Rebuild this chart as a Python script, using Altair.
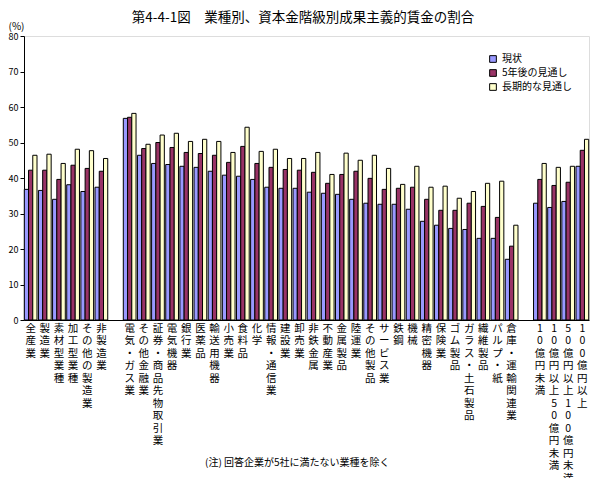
import altair as alt
import pandas as pd

FONT = "Noto Sans CJK JP"

title_text = "第4-4-1図　業種別、資本金階級別成果主義的賃金の割合"
note_text = "(注) 回答企業が5社に満たない業種を除く"

series = ["現状", "5年後の見通し", "長期的な見通し"]
colors = ["#9999FF", "#993366", "#FFFFCC"]

categories = [
    "全産業", "製造業", "素材型業種", "加工型業種", "その他の製造業", "非製造業",
    "電気・ガス業", "その他金融業", "証券・商品先物取引業", "電気機器", "銀行業",
    "医薬品", "輸送用機器", "小売業", "食料品", "化学", "情報・通信業", "建設業",
    "卸売業", "非鉄金属", "不動産業", "金属製品", "陸運業", "その他製品",
    "サービス業", "鉄鋼", "機械", "精密機器", "保険業", "ゴム製品",
    "ガラス・土石製品", "繊維製品", "パルプ・紙", "倉庫・運輸関連業",
    "10億円未満", "10億円以上50億円未満", "50億円以上100億円未満", "100億円以上",
]

genjo = [36.8, 36.5, 34.0, 38.1, 36.2, 37.4,
         56.8, 46.4, 44.1, 43.8, 43.3, 43.0, 41.9, 40.8, 40.5, 39.6, 37.4, 37.1,
         37.1, 36.0, 35.7, 35.4, 34.0, 32.9, 32.6, 32.6, 31.2, 27.8, 26.7, 25.8,
         25.5, 23.0, 23.0, 17.1,
         32.9, 31.7, 33.4, 43.3]
gonen = [42.2, 42.2, 39.6, 43.6, 42.7, 41.9,
         57.1, 48.3, 50.0, 48.6, 47.2, 46.9, 46.4, 44.4, 48.9, 44.1, 43.0, 42.4,
         42.2, 41.6, 38.5, 41.0, 41.9, 39.9, 36.8, 37.1, 37.4, 34.0, 30.9, 30.9,
         32.9, 32.0, 28.9, 20.8,
         39.6, 37.9, 38.8, 47.8]
choki = [46.4, 46.7, 44.1, 48.1, 47.7, 45.5,
         58.2, 49.5, 52.1, 52.6, 50.3, 50.9, 50.3, 47.2, 54.3, 47.5, 48.1, 45.5,
         45.5, 47.2, 41.0, 47.0, 45.0, 46.4, 42.7, 38.2, 43.3, 37.4, 37.7, 34.3,
         36.2, 38.5, 39.1, 26.7,
         44.1, 43.0, 43.3, 50.9]

# x domain with two blank spacer slots between the groups
spacer1, spacer2 = "\u3000", "\u3000\u3000"
x_domain = categories[:6] + [spacer1] + categories[6:34] + [spacer2] + categories[34:]

rows = []
for i, c in enumerate(categories):
    for s, vals in zip(series, [genjo, gonen, choki]):
        rows.append({"業種": c, "系列": s, "割合": vals[i]})
df = pd.DataFrame(rows)

bars = alt.Chart(df).mark_bar(stroke="black", strokeWidth=1).encode(
    x=alt.X("業種:N", scale=alt.Scale(domain=x_domain, paddingInner=0.1, paddingOuter=0.02),
            axis=alt.Axis(title=None, labelAngle=0, labelExpr="split(datum.label, '')",
                          labelFont=FONT, labelFontSize=10.5, labelLineHeight=12.5,
                          labelBaseline="top", labelPadding=3, ticks=False,
                          labelColor="black", domainColor="black", labelOverlap=False)),
    xOffset=alt.XOffset("系列:N", scale=alt.Scale(domain=series)),
    y=alt.Y("割合:Q", scale=alt.Scale(domain=[0, 80]),
            axis=alt.Axis(title="(%)", titleAngle=0, titleX=-16, titleY=-10,
                          titleBaseline="middle",
                          titleFont=FONT, titleFontSize=10, titleFontWeight="normal",
                          titleAlign="left",
                          values=list(range(0, 81, 10)), grid=False, tickSize=4,
                          labelFont=FONT, labelFontSize=9, labelColor="black",
                          tickColor="black", domainColor="black", labelPadding=2)),
    color=alt.Color("系列:N", scale=alt.Scale(domain=series, range=colors),
                    legend=alt.Legend(title=None, orient="none", legendX=464, legendY=18,
                                      symbolType="square", symbolSize=45,
                                      symbolStrokeColor="black", symbolStrokeWidth=1,
                                      labelFont=FONT, labelFontSize=10, rowPadding=2,
                                      labelColor="black")),
)

note = alt.Chart(pd.DataFrame({"t": [note_text]})).mark_text(
    font=FONT, fontSize=10, align="left", baseline="middle", color="black"
).encode(text="t:N", x=alt.value(181), y=alt.value(427))

title = alt.Chart(pd.DataFrame({"t": [title_text]})).mark_text(
    font=FONT, fontSize=13.5, align="center", baseline="middle", color="black"
).encode(text="t:N", x=alt.value(279), y=alt.value(-18))

chart = alt.layer(bars, note, title).properties(
    width=565, height=284,
    autosize=alt.AutoSizeParams(type="none"),
    padding={"left": 16, "top": 28, "right": 8, "bottom": 158},
).configure_view(stroke="black", strokeWidth=1).configure(background="white")

chart.save("out.html", embed_options={"renderer": "svg", "actions": False})
